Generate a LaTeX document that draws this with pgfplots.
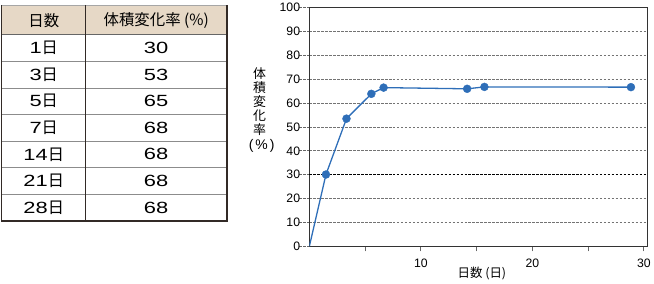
\documentclass[border=0pt]{standalone}
\usepackage{fontspec}
\setmainfont{Liberation Sans}
\newfontfamily\cjk{Noto Sans CJK JP}
\newfontfamily\wdig[FakeStretch=1.35]{Liberation Sans}
\usepackage{pgfplots}
\pgfplotsset{compat=1.18}
\definecolor{hdr}{RGB}{230,216,198}
\definecolor{pblue}{RGB}{46,110,184}
\definecolor{tdark}{RGB}{50,42,38}
\begin{document}
\begin{tikzpicture}[x=1pt,y=1pt]
\path (0,0) rectangle (654,282);
% ---- table ----
\fill[hdr] (1.5,279) rectangle (228,249);
\foreach \k in {1,...,6} {
  \draw[black!45,line width=0.8pt] (1.5,{249-\k*26.7}) -- (228,{249-\k*26.7});
}
\draw[black!60,line width=0.9pt] (1.5,249) -- (228,249);
\draw[black!35,line width=0.6pt] (1.5,279) -- (228,279);
\draw[tdark,line width=0.9pt] (86,279) -- (86,62);
\draw[tdark,line width=1.8pt] (1.5,279) -- (1.5,62) -- (228,62) -- (228,279);
\node[font={\fontsize{15.5}{17}\cjk}] at (44,263) {日数};
\node[font={\fontsize{15.5}{17}\cjk}] at (157,263) {体積変化率 (\%)};
\foreach \d/\v [count=\i from 0] in {1/30,3/53,5/65,7/68,14/68,21/68,28/68} {
  \node[font={\fontsize{16.3}{18}\selectfont}] at (44,{249-13.35-\i*26.7}) {{\wdig\d}{\cjk 日}};
  \node[font={\fontsize{16.3}{18}\selectfont}] at (157,{249-13.35-\i*26.7}) {\wdig\v};
}
% ---- chart ----
\begin{axis}[
  at={(311pt,36.3pt)}, anchor=origin,
  scale only axis, width=339.7pt, height=240pt,
  xmin=0, xmax=30.3, ymin=0, ymax=100,
  axis line style={black!80, line width=0.8pt},
  tick pos=left, tick align=outside,
  xtick={5,10,15,20,25,30},
  xticklabels={,10,,20,,30},
  ytick={0,10,20,40,50,60,70,80,90,100},
  extra y ticks={30},
  extra y tick style={grid style={black, line width=0.8pt, dash pattern=on 2.6pt off 1.4pt}},
  xtick style={/pgfplots/major tick length=5pt, black!60, line width=0.8pt},
  ytick style={/pgfplots/major tick length=10pt, black!60, line width=0.8pt, dash pattern=on 2.6pt off 1.4pt},
  ymajorgrids,
  grid style={black!55, line width=0.8pt, dash pattern=on 2.6pt off 1.4pt},
  /pgf/number format/assume math mode=true,
  ticklabel style={font=\fontsize{12.3}{14}\selectfont},
  xticklabel style={yshift=-5pt},
  yticklabel style={xshift=-1.5pt},
]
\addplot[pblue, line width=1.3pt, mark=*, mark size=4pt,
  mark options={fill=pblue, draw=pblue, line width=0.4pt},
  mark indices={2,3,4,5,6,7,8}] coordinates {
  (0,0) (1.49,30.1) (3.33,53.5) (5.56,63.9) (6.66,66.5) (14.15,66.0) (15.70,66.8) (28.84,66.7)
};
\end{axis}
\node[font={\fontsize{12.5}{14}\cjk}] at (484.5,9) {日数 (日)};
\foreach \c/\yy in {体/71.5,積/85.8,変/100.1,化/114.4,率/128.7} {
  \node[font={\fontsize{13}{13}\cjk}, inner sep=0pt] at (261,{282-\yy}) {\c};
}
\node[font={\fontsize{14}{14}\selectfont}, inner sep=0pt] at (263,137) {(\kern2pt\%\kern2pt)};
\end{tikzpicture}
\end{document}
